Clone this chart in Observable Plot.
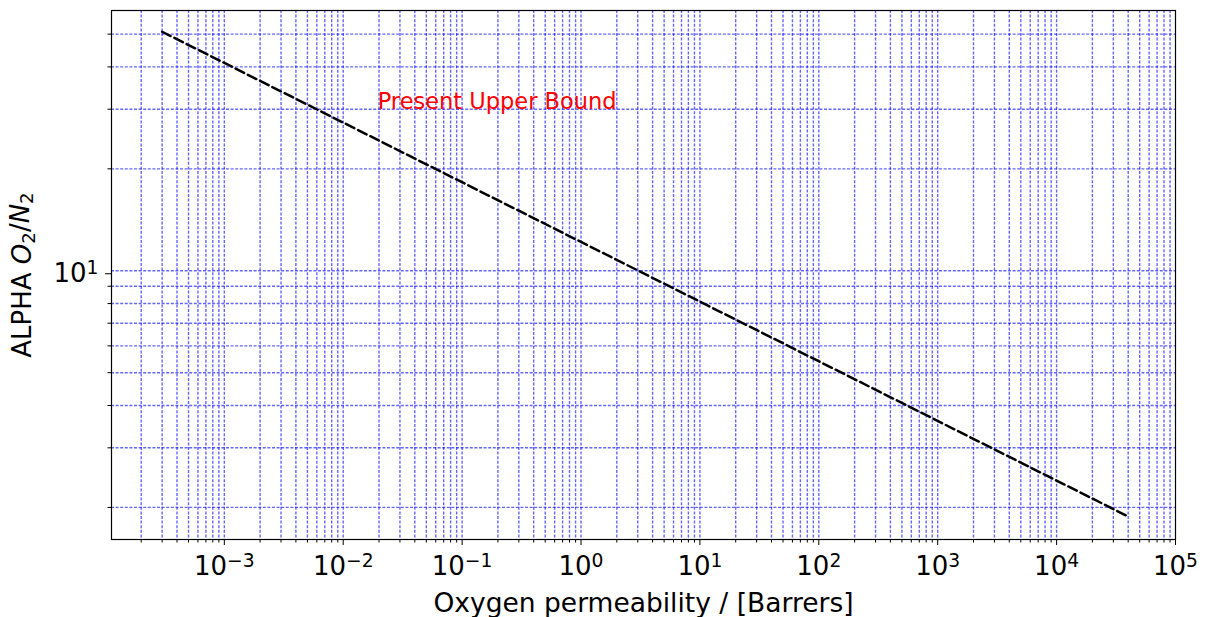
<!DOCTYPE html>
<html><head><meta charset="utf-8">
<script src="https://cdn.jsdelivr.net/npm/d3@7"></script>
<script src="https://cdn.jsdelivr.net/npm/@observablehq/plot@0.6"></script>
<style>body{margin:0;background:#fff} #chart svg{font-family:"DejaVu Sans",sans-serif;background:#fff}</style>
</head><body><div id="chart"></div>
<script>
// Upper bound line (end points of the dashed line)
const permeability = [3e-4, 4e4];      // Barrers
const alpha = [50.8, 1.88];            // O2/N2 selectivity
// Annotation
const annotationText = ["Present Upper Bound"];
const annotationX = [0.0195];
const annotationY = [30];
// Ticks
const xMajor = [1e-3, 1e-2, 1e-1, 1e0, 1e1, 1e2, 1e3, 1e4, 1e5];
const xTickLabels = ["10^\u22123", "10^\u22122", "10^\u22121", "10^0", "10^1", "10^2", "10^3", "10^4", "10^5"];
const yMajor = [10];
const yTickLabels = ["10^1"];
const yMinor = [2, 3, 4, 5, 6, 7, 8, 9, 20, 30, 40, 50];
const decades = [-4, -3, -2, -1, 0, 1, 2, 3, 4];
const mantissas = [2, 3, 4, 5, 6, 7, 8, 9];
const xMinor = decades.flatMap(e => mantissas.map(m => m * Math.pow(10, e)));

const lineData = permeability.map((p, i) => ({p, a: alpha[i]}));
const annData = annotationText.map((t, i) => ({t, x: annotationX[i], y: annotationY[i]}));

const gridStyle = {stroke: "#0000ff", strokeOpacity: 0.6, strokeWidth: 1.4, strokeDasharray: "3,1.6"};

const chart = Plot.plot({
  width: 1206,
  height: 617,
  marginLeft: 111,
  marginRight: 31,
  marginTop: 10,
  marginBottom: 78,
  style: {fontFamily: "DejaVu Sans", background: "#fff"},
  x: {type: "log", domain: [1.125e-4, 1e5]},
  y: {type: "log", domain: [1.608, 58.7]},
  marks: [
    Plot.gridX([...xMajor, ...xMinor].filter(v => v < 1e5), {x: d => d, ...gridStyle}),
    Plot.gridY([...yMajor, ...yMinor], {y: d => d, ...gridStyle}),
    Plot.line(lineData, {x: "p", y: "a", stroke: "black", strokeWidth: 2.5, strokeDasharray: "9.5,4.2"}),
    Plot.text(annData, {x: "x", y: "y", text: "t", fill: "#ff0000", fontSize: 22.5, textAnchor: "start", lineAnchor: "bottom"}),
    Plot.axisX({ticks: xMinor, tickSize: 3.5, tickFormat: () => "", label: null, strokeWidth: 1}),
    Plot.axisX({ticks: xMajor, tickSize: 6, tickPadding: 11, fontSize: 26, strokeWidth: 1,
      tickFormat: d => xTickLabels[xMajor.indexOf(d)],
      label: "Oxygen permeability / [Barrers]", labelAnchor: "center", labelArrow: "none", labelOffset: 72}),
    Plot.axisY({ticks: yMinor, tickSize: 3.5, tickFormat: () => "", label: null, strokeWidth: 1}),
    Plot.axisY({ticks: yMajor, tickSize: 6, tickPadding: 7, fontSize: 26, strokeWidth: 1, dy: 3,
      tickFormat: d => yTickLabels[yMajor.indexOf(d)],
      label: "ALPHA O2/N2", labelAnchor: "center", labelArrow: "none", labelOffset: 99}),
    Plot.frame({stroke: "black", strokeWidth: 1.2})
  ]
});
document.getElementById("chart").appendChild(chart);

const svg = d3.select(chart);
svg.selectAll("text").each(function () {
  const s = this.textContent;
  if (!s.startsWith("10^")) return;
  const [b, e] = s.split("^");
  const t = d3.select(this);
  t.text(null);
  t.append("tspan").text(b);
  t.append("tspan").attr("dy", "-0.42em").attr("font-size", "72%").text(e);
});
svg.selectAll("text").each(function () {
  const s = this.textContent;
  const t = d3.select(this);
  if (s === "Oxygen permeability / [Barrers]") {
    t.attr("font-size", 26.5).attr("fill", "black");
  }
  if (s === "ALPHA O2/N2") {
    t.attr("font-size", 26).attr("fill", "black");
    t.text(null);
    t.append("tspan").text("ALPHA ");
    t.append("tspan").attr("font-style", "italic").text("O");
    t.append("tspan").attr("dy", "0.22em").attr("font-size", "70%").text("2");
    t.append("tspan").attr("dy", "-0.22em").text("/");
    t.append("tspan").attr("font-style", "italic").text("N");
    t.append("tspan").attr("dy", "0.22em").attr("font-size", "70%").text("2");
  }
});
</script></body></html>
